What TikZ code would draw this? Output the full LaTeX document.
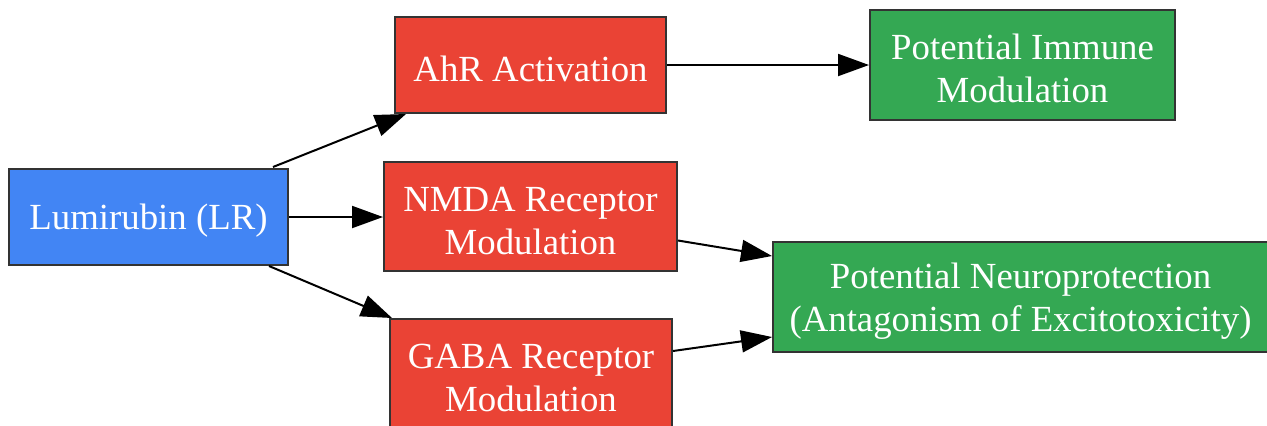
\documentclass[tikz,border=0pt]{standalone}
\usepackage{fontspec}
\setmainfont{Liberation Serif}
\usetikzlibrary{arrows.meta,calc}
\definecolor{gblue}{HTML}{4285F4}
\definecolor{gred}{HTML}{EA4335}
\definecolor{ggreen}{HTML}{34A853}
\definecolor{gborder}{HTML}{333333}
\newcommand{\topstrut}{\rule{0pt}{16.6pt}}
\begin{document}
\begin{tikzpicture}[x=0.5pt,y=-0.5pt,
  box/.style={draw=gborder,line width=1pt,rectangle,inner sep=0pt,align=center,text=white,
    font=\fontsize{18.4pt}{21.5pt}\selectfont},
  bluebox/.style={box,fill=gblue},
  redbox/.style={box,fill=gred},
  greenbox/.style={box,fill=ggreen},
  conn/.style={draw=black,line width=1pt,-{Triangle[length=15.5pt,width=11pt]}}]
\useasboundingbox (0,0) rectangle (1267,425);
\node[bluebox,minimum width=139.5pt,minimum height=48pt] (lr) at (148.5,217) {\topstrut Lumirubin (LR)};
\node[redbox,minimum width=135.5pt,minimum height=48pt] (ahr) at (530.5,65) {\topstrut AhR Activation};
\node[redbox,minimum width=146.5pt,minimum height=54.5pt] (nmda) at (530.5,216.5) {\topstrut NMDA Receptor\\Modulation};
\node[redbox,minimum width=141pt,minimum height=54.5pt] (gaba) at (531,373.5) {\topstrut GABA Receptor\\Modulation};
\node[greenbox,minimum width=152.5pt,minimum height=55pt] (imm) at (1022.5,65) {\topstrut Potential Immune\\Modulation};
\node[greenbox,minimum width=247.5pt,minimum height=55pt] (neuro) at (1020.5,297) {\topstrut Potential Neuroprotection\\(Antagonism of Excitotoxicity)};
\draw[conn] ($(lr.north east)+(-16,-1)$) -- ($(ahr.south west)+(12,0)$);
\draw[conn] (lr.east) -- (lr.east -| nmda.west);
\draw[conn] ($(lr.south east)+(-20,0)$) -- ($(gaba.north west)+(3,0)$);
\draw[conn] (ahr.east) -- (ahr.east -| imm.west);
\draw[conn] ($(nmda.east)+(0,24)$) -- ($(neuro.west)+(0,-41)$);
\draw[conn] ($(gaba.east)+(0,-22.5)$) -- ($(neuro.west)+(0,40)$);
\end{tikzpicture}
\end{document}
